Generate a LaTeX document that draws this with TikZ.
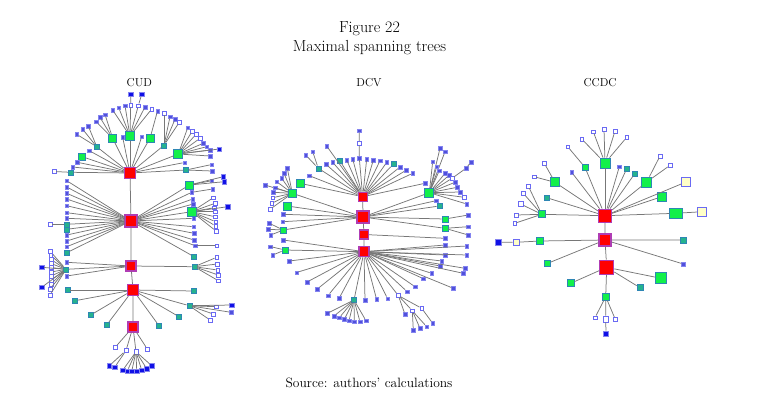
\documentclass[tikz,border=0pt]{standalone}
\usepackage{xcolor}
\usetikzlibrary{positioning}

\definecolor{hubline}{HTML}{B03CB4}
\definecolor{grnfill}{HTML}{12F04A}
\definecolor{grnline}{HTML}{2E86B4}
\definecolor{tealfill}{HTML}{25B38E}
\definecolor{leaffill}{HTML}{5050DC}
\definecolor{leafline}{HTML}{8484F0}
\definecolor{darkfill}{HTML}{1010E6}
\definecolor{creamfill}{HTML}{FFFFC8}
\definecolor{edgegray}{HTML}{777777}

\begin{document}
\begin{tikzpicture}[x=1pt,y=-1pt,
  edge/.style={draw=edgegray,line width=0.75pt},
  hubnode/.style={draw=hubline,fill=red,line width=1.2pt,inner sep=0pt,minimum size=#1},
  hubnode/.default=11pt,
  grnnode/.style={draw=grnline,fill=grnfill,line width=0.8pt,inner sep=0pt,minimum size=#1},
  grnnode/.default=8pt,
  tealnode/.style={draw=grnline,fill=tealfill,line width=0.6pt,inner sep=0pt,minimum size=#1},
  tealnode/.default=5pt,
  leafnode/.style={draw=leafline,fill=leaffill,line width=0.4pt,inner sep=0pt,minimum size=3.5pt},
  opennode/.style={draw=leafline!80!blue,fill=white,line width=0.6pt,inner sep=0pt,minimum size=#1},
  opennode/.default=3.8pt,
  darknode/.style={draw=leafline,fill=darkfill,line width=0.4pt,inner sep=0pt,minimum size=4.4pt},
  creamnode/.style={draw=leafline!80!blue,fill=creamfill,line width=0.8pt,inner sep=0pt,minimum size=#1},
  creamnode/.default=8pt,
  lbl/.style={anchor=base,font=\fontsize{11.5}{14}\selectfont}]

\useasboundingbox (0,0) rectangle (758,400);

% Titles
\node[anchor=base,font=\fontsize{16}{19}\selectfont] (fig) at (369.5,32.7) {Figure 22};
\node[anchor=base,font=\fontsize{16}{19}\selectfont] (ttl) at (369.5,51.7) {Maximal spanning trees};
\node[lbl] (tcud) at (139.3,86) {CUD};
\node[lbl] (tdcv) at (369,86) {DCV};
\node[lbl] (tccdc) at (600,86) {CCDC};
\node[anchor=base,font=\fontsize{13.5}{16}\selectfont] (src) at (369,387.3) {Source: authors' calculations};

%%%%%%%%%%%%%%%% CUD %%%%%%%%%%%%%%%%
\node[hubnode] (u1) at (130,173) {};
\node[hubnode=12pt] (u2) at (131,221) {};
\node[hubnode=10pt] (u3) at (131,266) {};
\node[hubnode] (u4) at (133,290) {};
\node[hubnode=10pt] (u5) at (133,327) {};
\draw[edge] (u1) -- (u2) -- (u3) -- (u4) -- (u5);

% first hub: groups
\node[grnnode=9pt] (ua) at (130,136) {};
\node[grnnode] (ub) at (112.7,138.3) {};
\node[grnnode] (uc) at (150,138.3) {};
\node[tealnode] (ud) at (96.7,146.7) {};
\node[tealnode] (ue) at (164,145.3) {};
\node[grnnode=9pt] (uf) at (178.3,154) {};
\node[grnnode=7pt] (uh) at (82.3,156.7) {};
\node[tealnode] (ui) at (186,170) {};
\node[tealnode] (uj) at (70.7,172.3) {};
\foreach \n in {ua,ub,uc,ud,ue,uf,uh,ui,uj} {\draw[edge] (u1) -- (\n);}
\foreach \x/\y/\s [count=\i] in {89.3/150.7/leafnode, 77.3/162.3/leafnode, 72.7/167/leafnode,
    122.7/137.3/leafnode, 141.7/136.7/leafnode, 184.5/162.5/leafnode}
  {\node[\s] (u1l\i) at (\x,\y) {}; \draw[edge] (u1) -- (u1l\i);}
\foreach \x/\y/\s [count=\i] in {112.7/110/leafnode, 118.7/107.7/leafnode, 125/105.7/leafnode,
    130.7/105/opennode, 138.3/105.7/opennode, 145/107/leafnode, 151.7/109/opennode}
  {\node[\s] (ua\i) at (\x,\y) {}; \draw[edge] (ua) -- (ua\i);}
\node[darknode] (ua4a) at (130.7,94.3) {};
\node[darknode] (ua5a) at (141.7,94.3) {};
\draw[edge] (ua4) -- (ua4a) (ua5) -- (ua5a);
\foreach \x/\y [count=\i] in {96/121.7, 100/117.3, 105/114.5}
  {\node[leafnode] (ub\i) at (\x,\y) {}; \draw[edge] (ub) -- (ub\i);}
\node[leafnode] (uc1) at (157.5,111) {}; \draw[edge] (uc) -- (uc1);
\foreach \x/\y [count=\i] in {76.7/134.3, 82.7/129.3, 88.3/126}
  {\node[leafnode] (ud\i) at (\x,\y) {}; \draw[edge] (ud) -- (ud\i);}
\foreach \x/\y/\s [count=\i] in {164/113/opennode, 170/116.7/leafnode, 175/119.3/leafnode, 179.3/122.3/opennode}
  {\node[\s] (ue\i) at (\x,\y) {}; \draw[edge] (ue) -- (ue\i);}
\foreach \x/\y/\s [count=\i] in {187.7/127.7/leafnode, 192.3/131/opennode, 196/134.3/opennode,
    200/138.3/opennode, 203.3/143.3/leafnode, 206.7/146.7/leafnode, 210/150/leafnode,
    219.3/149/darknode, 210/156/leafnode}
  {\node[\s] (uf\i) at (\x,\y) {}; \draw[edge] (uf) -- (uf\i);}
\node[opennode] (uj1) at (54,171.5) {}; \draw[edge] (uj) -- (uj1);
\foreach \x/\y [count=\i] in {211.7/164.5, 212/171}
  {\node[leafnode] (ui\i) at (\x,\y) {}; \draw[edge] (ui) -- (ui\i);}

% second hub: the two columns
\foreach \y/\s [count=\i] in {180.7/leafnode, 187/leafnode, 193.3/leafnode, 199/leafnode,
    205.7/leafnode, 212.7/leafnode, 218.3/leafnode, 224.3/tealnode, 229.3/tealnode,
    235/leafnode, 241/leafnode, 246.7/leafnode, 252.7/tealnode}
  {\node[\s] (u2a\i) at (66.7,\y) {}; \draw[edge] (u2) -- (u2a\i);}
\node[opennode] (u2a8a) at (50,224.3) {}; \draw[edge] (u2a8) -- (u2a8a);
\foreach \x/\y/\s [count=\i] in {191.7/192.3/leafnode, 192.7/199/leafnode, 193.3/204/leafnode,
    193.5/218.3/leafnode, 193.5/226.7/leafnode, 194/233.3/leafnode, 194/240/leafnode,
    195/245.7/leafnode, 194/256.7/tealnode}
  {\node[\s] (u2b\i) at (\x,\y) {}; \draw[edge] (u2) -- (u2b\i);}
\node[leafnode] (u2b1a) at (212.7,189) {}; \draw[edge] (u2b1) -- (u2b1a);
\node[opennode] (u2b8a) at (216.7,245.7) {}; \draw[edge] (u2b8) -- (u2b8a);
\node[grnnode] (uk) at (189.3,185) {};
\node[grnnode=9pt] (um) at (191.7,211.7) {};
\draw[edge] (u2) -- (uk) (u2) -- (um);
\foreach \x/\y/\s [count=\i] in {211.7/180.7/leafnode, 223.3/176.7/darknode, 224.3/181.7/darknode}
  {\node[\s] (uk\i) at (\x,\y) {}; \draw[edge] (uk) -- (uk\i);}
\foreach \x/\y/\s [count=\i] in {213.3/197.7/opennode, 215/203.3/opennode, 214.3/207.7/opennode,
    227.7/206.7/darknode, 215/211.7/opennode, 215/216.7/opennode, 215.7/221.7/opennode,
    215.7/226/opennode, 216/231/opennode}
  {\node[\s] (um\i) at (\x,\y) {}; \draw[edge] (um) -- (um\i);}

% third hub
\node[tealnode] (un) at (66,269.3) {};
\node[tealnode] (uo) at (194.3,266.7) {};
\draw[edge] (un) -- (u3) -- (uo);
\foreach \x/\y [count=\i] in {66.7/262.3, 66.7/276}
  {\node[leafnode] (u3l\i) at (\x,\y) {}; \draw[edge] (u3) -- (u3l\i);}
\foreach \x/\y/\s [count=\i] in {50/251/opennode, 50.7/255/opennode, 51/259.5/opennode,
    51/263.5/opennode, 51/267.5/opennode, 51/272/opennode, 51/276/opennode, 51/280/opennode,
    51/284/opennode, 50/289/opennode, 50/295/opennode, 41.7/267.3/darknode, 41.7/287.3/darknode}
  {\node[\s] (un\i) at (\x,\y) {}; \draw[edge] (un) -- (un\i);}
\foreach \x/\y [count=\i] in {216.7/257.3, 217.3/264, 217.7/270, 218.3/275, 218.3/280.7}
  {\node[opennode] (uo\i) at (\x,\y) {}; \draw[edge] (uo) -- (uo\i);}

% fourth hub
\foreach \x/\y [count=\i] in {67.3/290, 75/300.7, 90.7/315, 106.7/325, 159/325.7, 179/316.7, 194/291}
  {\node[tealnode] (u4l\i) at (\x,\y) {}; \draw[edge] (u4) -- (u4l\i);}
\node[tealnode] (up) at (189.3,305.7) {};
\draw[edge] (u4) -- (up);
\foreach \x/\y/\s [count=\i] in {216/306.7/opennode, 231.7/305/darknode, 231/312.3/leafnode,
    213.3/314/opennode, 210/320/opennode}
  {\node[\s] (up\i) at (\x,\y) {}; \draw[edge] (up) -- (up\i);}

% fifth hub
\foreach \x/\y [count=\i] in {115/347.5, 126/350.5, 136/351.7, 147.5/349.3}
  {\node[opennode=4.4pt] (u5l\i) at (\x,\y) {}; \draw[edge] (u5) -- (u5l\i);}
\foreach \x/\y [count=\i] in {109.3/365.7, 114.7/367.3}
  {\node[darknode] (uq\i) at (\x,\y) {}; \draw[edge] (u5l2) -- (uq\i);}
\foreach \x/\y [count=\i] in {122.7/370.3, 127.3/371, 131.7/371.3, 136.7/371, 141.7/370.3, 146.7/368.7, 151.7/365.7}
  {\node[darknode] (ur\i) at (\x,\y) {}; \draw[edge] (u5l3) -- (ur\i);}

%%%%%%%%%%%%%%%% DCV %%%%%%%%%%%%%%%%
\node[hubnode=9pt] (d1) at (362.7,196.7) {};
\node[hubnode=12pt] (d2) at (363,217) {};
\node[hubnode=9pt] (d3) at (364,234.5) {};
\node[hubnode=10pt] (d4) at (364,251.7) {};
\draw[edge] (d1) -- (d2) -- (d3) -- (d4);

% first hub
\node[leafnode] (da1) at (359.3,158.3) {};
\node[opennode] (da2) at (359.3,143.3) {};
\node[leafnode] (da3) at (359.3,130.7) {};
\draw[edge] (d1) -- (da1) -- (da2) -- (da3);
\foreach \x/\y/\s [count=\i] in {309.3/175.7/leafnode, 326/164.3/leafnode, 332.7/162.3/leafnode,
    340/161/tealnode, 346.7/160/leafnode, 352.7/159/leafnode, 366.7/159/leafnode, 373.3/160/leafnode,
    380/160.7/leafnode, 386.7/162.3/leafnode, 393.3/164/tealnode, 400/167/leafnode, 406/170.3/leafnode,
    412.7/173.3/leafnode, 425/183.3/leafnode, 326.7/146/leafnode, 300/183.3/grnnode}
  {\node[\s] (d1l\i) at (\x,\y) {}; \draw[edge] (d1) -- (d1l\i);}
\node[tealnode] (db) at (318.3,168.3) {};
\draw[edge] (d1) -- (db);
\foreach \x/\y [count=\i] in {305.7/155, 312.7/151.7}
  {\node[leafnode] (db\i) at (\x,\y) {}; \draw[edge] (db) -- (db\i);}

% second hub
\node[grnnode] (dl) at (292.3,193.3) {};
\node[grnnode=9pt] (dr) at (429.3,192.7) {};
\node[grnnode=6pt] (dq) at (283.3,230) {};
\node[grnnode=6pt] (ds) at (445,219) {};
\node[grnnode=6pt] (dt) at (445,228.3) {};
\foreach \n in {dl,dr,dq,ds,dt} {\draw[edge] (d2) -- (\n);}
\foreach \x/\y/\s [count=\i] in {287.3/206/grnnode, 283.3/214.3/leafnode, 282.7/221.7/leafnode,
    436/200.7/leafnode, 439.3/206/tealnode}
  {\node[\s] (d2l\i) at (\x,\y) {}; \draw[edge] (d2) -- (d2l\i);}
\foreach \x/\y/\s [count=\i] in {265/185/leafnode, 275/187.7/leafnode, 273.3/192.3/leafnode,
    272.7/197.7/opennode, 271.7/203.3/opennode, 270/209.3/opennode, 276.7/181.7/leafnode,
    281.7/178.3/leafnode, 284/173.3/leafnode, 287.3/168.3/leafnode}
  {\node[\s] (dl\i) at (\x,\y) {}; \draw[edge] (dl) -- (dl\i);}
\foreach \x/\y/\s [count=\i] in {440/148.3/leafnode, 445/151.7/leafnode, 432.7/161.7/leafnode,
    436.7/166.7/leafnode, 439.3/170.7/leafnode, 445/173.3/leafnode, 449.3/175/leafnode,
    452/178.3/opennode, 455/182.3/leafnode, 457.3/187.3/leafnode, 460/192/leafnode,
    464.3/197.3/opennode, 466.7/204/leafnode}
  {\node[\s] (dr\i) at (\x,\y) {}; \draw[edge] (dr) -- (dr\i);}
\node[leafnode] (dr8a) at (466,168.3) {};
\node[leafnode] (dr8b) at (471,162) {};
\draw[edge] (dr8) -- (dr8a) -- (dr8b);
\foreach \x/\y [count=\i] in {269.3/223.3, 268.3/229.3, 270.7/235}
  {\node[leafnode] (dq\i) at (\x,\y) {}; \draw[edge] (dq) -- (dq\i);}
\node[leafnode] (ds1) at (468.3,215) {}; \draw[edge] (ds) -- (ds1);
\foreach \x/\y [count=\i] in {468.3/226.7, 468.3/235}
  {\node[leafnode] (dt\i) at (\x,\y) {}; \draw[edge] (dt) -- (dt\i);}

% third hub
\node[leafnode] (d3l1) at (445,238.3) {}; \draw[edge] (d3) -- (d3l1);

% fourth hub
\foreach \x/\y [count=\i] in {283.3/240, 289.3/261, 296.5/272.5, 307/282, 317.3/289, 328/295.5,
    339.3/298, 365/300, 376.5/299, 387.5/298.5, 407/291.5, 415/286.7, 423/278.5, 431.7/273.3,
    440/266, 441.7/261, 445/255, 445/245, 466.7/246, 466.7/255, 465/268.3, 463.3/273.3, 453.3/288.3}
  {\node[leafnode] (d4l\i) at (\x,\y) {}; \draw[edge] (d4) -- (d4l\i);}
\node[grnnode=6pt] (dg) at (285,250) {};
\node[tealnode] (dh) at (354,300) {};
\node[opennode] (dv) at (398.3,295.5) {};
\draw[edge] (dg) -- (d4) -- (dh) (d4) -- (dv);
\foreach \x/\y [count=\i] in {270/246.5, 272.7/255}
  {\node[leafnode] (dg\i) at (\x,\y) {}; \draw[edge] (dg) -- (dg\i);}
\foreach \x/\y [count=\i] in {327.3/313.3, 334/316, 339.3/317.7, 344.3/319.3, 349/320.7, 354.3/321.7, 360/321.7, 366/320.7}
  {\node[leafnode] (dh\i) at (\x,\y) {}; \draw[edge] (dh) -- (dh\i);}
\node[leafnode] (dv1) at (405,314.3) {};
\node[opennode] (dw) at (412.3,310.7) {};
\node[opennode] (dx) at (421.7,308.3) {};
\draw[edge] (dv) -- (dv1) (dv) -- (dw) (dv) -- (dx);
\foreach \x/\y [count=\i] in {413.3/330, 420/328.3, 426.7/326.7}
  {\node[leafnode] (dw\i) at (\x,\y) {}; \draw[edge] (dw) -- (dw\i);}
\node[leafnode] (dx1) at (432.7,323.3) {}; \draw[edge] (dx) -- (dx1);

%%%%%%%%%%%%%%%% CCDC %%%%%%%%%%%%%%%%
\node[hubnode=13pt] (c1) at (605,215.7) {};
\node[hubnode=12pt] (c2) at (605,240) {};
\node[hubnode=14pt] (c3) at (606.7,267.3) {};
\draw[edge] (c1) -- (c2) -- (c3);

% first hub
\node[grnnode=10pt] (ca) at (605,163) {};
\node[grnnode=6pt] (cb) at (585,167.3) {};
\node[grnnode=9pt] (cc) at (555,182.3) {};
\node[grnnode=7pt] (cd) at (541.7,214.3) {};
\node[grnnode=10pt] (ce) at (646.7,182) {};
\node[grnnode=9pt] (cf) at (661.7,196.7) {};
\node[grnnode,minimum width=13pt,minimum height=10pt] (cg) at (676,213.3) {};
\node[creamnode=9pt] (ch) at (686,182) {};
\foreach \n in {ca,cb,cc,cd,ce,cf,cg,ch} {\draw[edge] (c1) -- (\n);}
\foreach \x/\y/\s [count=\i] in {571.7/172.3/leafnode, 546.7/197.7/tealnode, 619.3/166.7/leafnode,
    626.7/168.7/tealnode, 635/173.3/tealnode}
  {\node[\s] (c1l\i) at (\x,\y) {}; \draw[edge] (c1) -- (c1l\i);}
\foreach \x/\y [count=\i] in {593.3/131.7, 604/129.3, 615/131, 626.7/137.3, 581.7/139}
  {\node[opennode] (ca\i) at (\x,\y) {}; \draw[edge] (ca) -- (ca\i);}
\node[opennode] (cb1) at (567.7,146.7) {}; \draw[edge] (cb) -- (cb1);
\foreach \x/\y [count=\i] in {544.3/163.3, 534/176.7}
  {\node[opennode] (cc\i) at (\x,\y) {}; \draw[edge] (cc) -- (cc\i);}
\foreach \x/\y [count=\i] in {528.3/186, 523.3/193.3, 516/215, 514.7/223.3}
  {\node[opennode] (cd\i) at (\x,\y) {}; \draw[edge] (cd) -- (cd\i);}
\node[opennode=5.5pt] (cd5) at (520.7,204) {}; \draw[edge] (cd) -- (cd5);
\foreach \x/\y [count=\i] in {660/156, 670/165.3}
  {\node[opennode] (ce\i) at (\x,\y) {}; \draw[edge] (ce) -- (ce\i);}
\node[creamnode=9pt] (cg1) at (702.3,211.7) {}; \draw[edge] (cg) -- (cg1);

% second hub
\node[grnnode=7pt] (ci) at (540,241) {};
\node[creamnode=6pt] (cj) at (516,242.3) {};
\node[darknode,minimum size=6pt] (ck) at (498.3,242.3) {};
\draw[edge] (c2) -- (ci) -- (cj) -- (ck);
\node[tealnode=6pt] (c2l1) at (683.3,240) {};
\node[grnnode=6pt] (c2l2) at (547.7,263.3) {};
\node[leafnode] (c2l3) at (683.3,264) {};
\draw[edge] (c2) -- (c2l1) (c2) -- (c2l2) (c2) -- (c2l3);

% third hub
\node[grnnode=7pt] (cm) at (605.7,296.7) {};
\node[grnnode=7pt] (c3l1) at (570.7,283.3) {};
\node[grnnode=11pt] (c3l2) at (661,278.3) {};
\node[tealnode=6pt] (c3l3) at (640,287.7) {};
\draw[edge] (c3) -- (cm) (c3) -- (c3l1) (c3) -- (c3l2) (c3) -- (c3l3);
\node[opennode] (cm1) at (595,317.7) {};
\node[opennode,minimum width=4.5pt,minimum height=6pt] (cm2) at (605.7,319) {};
\node[opennode] (cm3) at (615.3,319.3) {};
\node[darknode,minimum size=5pt] (cn) at (606,333.3) {};
\draw[edge] (cm) -- (cm1) (cm) -- (cm2) (cm) -- (cm3) (cm2) -- (cn);

\end{tikzpicture}
\end{document}
